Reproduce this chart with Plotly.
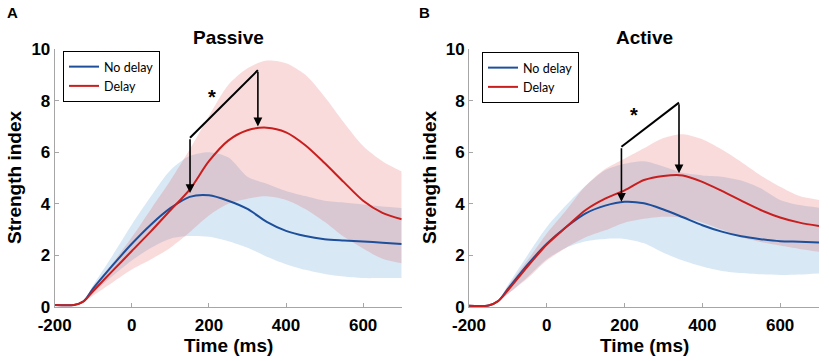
import plotly.graph_objects as go

# ---------------- data ----------------
time_ms = [-200, -150, -125, -100, -50, 0, 50, 100, 150, 200, 250, 300, 350, 400, 450, 500, 550, 600, 650, 700]

# Panel A (Passive)
a_nodelay_mean = [0.08, 0.08, 0.22, 0.72, 1.61, 2.45, 3.2, 3.83, 4.27, 4.33, 4.12, 3.8, 3.3, 2.95, 2.75, 2.63, 2.58, 2.54, 2.49, 2.44]
a_nodelay_upper = [0.1, 0.1, 0.25, 0.85, 2.0, 3.2, 4.3, 5.3, 5.85, 6.0, 5.8, 5.05, 4.78, 4.5, 4.3, 4.12, 4.05, 3.97, 3.9, 3.84]
a_nodelay_lower = [0.05, 0.05, 0.2, 0.55, 1.2, 1.8, 2.3, 2.65, 2.75, 2.72, 2.55, 2.3, 1.95, 1.66, 1.44, 1.28, 1.18, 1.12, 1.12, 1.12]
a_delay_mean = [0.08, 0.08, 0.22, 0.62, 1.4, 2.17, 2.94, 3.75, 4.55, 5.65, 6.45, 6.85, 6.95, 6.77, 6.27, 5.58, 4.84, 4.12, 3.65, 3.4]
a_delay_upper = [0.1, 0.1, 0.25, 0.8, 1.7, 2.7, 3.8, 4.9, 6.1, 7.4, 8.6, 9.25, 9.55, 9.45, 9.0, 8.15, 7.15, 6.24, 5.65, 5.25]
a_delay_lower = [0.05, 0.05, 0.2, 0.45, 0.95, 1.45, 1.85, 2.3, 2.9, 3.55, 4.0, 4.2, 4.29, 4.15, 3.8, 3.3, 2.72, 2.27, 1.87, 1.7]

# Panel B (Active)
b_nodelay_mean = [0.05, 0.06, 0.23, 0.7, 1.63, 2.45, 3.1, 3.63, 3.93, 4.08, 4.02, 3.78, 3.48, 3.17, 2.92, 2.74, 2.63, 2.55, 2.53, 2.5]
b_nodelay_upper = [0.08, 0.08, 0.25, 0.85, 2.0, 3.1, 3.95, 4.7, 5.3, 5.55, 5.65, 5.45, 5.2, 5.1, 5.05, 4.9, 4.6, 4.15, 3.95, 3.85]
b_nodelay_lower = [0.03, 0.04, 0.2, 0.5, 1.15, 1.85, 2.3, 2.55, 2.64, 2.64, 2.47, 2.1, 1.8, 1.57, 1.4, 1.32, 1.27, 1.24, 1.26, 1.3]
b_delay_mean = [0.05, 0.06, 0.23, 0.65, 1.56, 2.42, 3.1, 3.76, 4.2, 4.52, 4.92, 5.08, 5.1, 4.85, 4.5, 4.12, 3.76, 3.47, 3.27, 3.14]
b_delay_upper = [0.08, 0.08, 0.25, 0.8, 1.8, 2.85, 3.75, 4.7, 5.35, 5.75, 6.15, 6.55, 6.7, 6.5, 6.1, 5.62, 5.1, 4.66, 4.3, 4.15]
b_delay_lower = [0.03, 0.04, 0.2, 0.5, 1.1, 1.8, 2.3, 2.7, 2.97, 3.27, 3.42, 3.5, 3.47, 3.28, 3.0, 2.7, 2.52, 2.38, 2.25, 2.14]

# significance brackets: [x_left, x_left, x_right, x_right], [tipL, topL, topR, tipR]
a_bracket_x = [151, 151, 327, 327]
a_bracket_y = [4.42, 6.56, 9.18, 7.0]
a_star = (208, 8.15)
b_bracket_x = [192, 192, 340, 340]
b_bracket_y = [4.08, 6.21, 7.92, 5.18]
b_star = (224, 7.45)

x_ticks = [-200, 0, 200, 400, 600]
x_ticktext = ["-200", "0", "200", "400", "600"]
y_ticks = [0, 2, 4, 6, 8, 10]
series_names = ["No delay", "Delay"]
panel_titles = ["Passive", "Active"]
panel_letters = ["A", "B"]

BLUE = "#1d4f9b"
RED = "#c81e1e"
BLUE_FILL = "rgba(0,100,190,0.15)"
RED_FILL = "rgba(220,40,40,0.17)"

W, H = 829, 361
fig = go.Figure()

panels = [
    dict(xa="x", ya="y", legend="legend",
         nd=(a_nodelay_mean, a_nodelay_upper, a_nodelay_lower),
         d=(a_delay_mean, a_delay_upper, a_delay_lower)),
    dict(xa="x2", ya="y2", legend="legend2",
         nd=(b_nodelay_mean, b_nodelay_upper, b_nodelay_lower),
         d=(b_delay_mean, b_delay_upper, b_delay_lower)),
]

for p in panels:
    for (mean, up, lo), fillc in ((p["nd"], BLUE_FILL), (p["d"], RED_FILL)):
        fig.add_trace(go.Scatter(x=time_ms, y=up, mode="lines", line=dict(width=0, shape="spline", smoothing=0.8),
                                 xaxis=p["xa"], yaxis=p["ya"], showlegend=False, hoverinfo="skip"))
        fig.add_trace(go.Scatter(x=time_ms, y=lo, mode="lines", line=dict(width=0, shape="spline", smoothing=0.8),
                                 fill="tonexty", fillcolor=fillc,
                                 xaxis=p["xa"], yaxis=p["ya"], showlegend=False, hoverinfo="skip"))
    for (mean, up, lo), col, name in ((p["nd"], BLUE, series_names[0]), (p["d"], RED, series_names[1])):
        fig.add_trace(go.Scatter(x=time_ms, y=mean, mode="lines", name=name,
                                 line=dict(color=col, width=2, shape="spline", smoothing=0.8),
                                 xaxis=p["xa"], yaxis=p["ya"], legend=p["legend"]))

tick_font = dict(family="Liberation Sans, Arial", size=17, color="black", weight="bold")
ax_common = dict(showgrid=False, zeroline=False, showline=True, linecolor="#a6a6a6", linewidth=1,
                 ticks="inside", ticklen=4, tickcolor="#a6a6a6", tickfont=tick_font, mirror=False,
                 automargin=False)

ydom = [(H - 307) / H, (H - 49) / H]
leg_common = dict(xanchor="left", yanchor="top", bordercolor="black", borderwidth=1, bgcolor="white",
                  font=dict(family="Lato", size=12.5, color="black"), itemwidth=30,
                  tracegroupgap=0, traceorder="normal")
fig.update_layout(
    width=W, height=H, margin=dict(l=0, r=0, t=0, b=0, autoexpand=False),
    paper_bgcolor="white", plot_bgcolor="white",
    xaxis=dict(domain=[54.7 / W, 401.7 / W], range=[-200, 700], tickvals=x_ticks, ticktext=x_ticktext,
               anchor="y", ticklabelstandoff=3, **ax_common),
    yaxis=dict(domain=ydom, range=[0, 10], tickvals=y_ticks, anchor="x", **ax_common),
    xaxis2=dict(domain=[469 / W, 819 / W], range=[-200, 700], tickvals=x_ticks, ticktext=x_ticktext,
                anchor="y2", ticklabelstandoff=3, **ax_common),
    yaxis2=dict(domain=ydom, range=[0, 10], tickvals=y_ticks, anchor="x2", **ax_common),
    legend=dict(x=63 / W, y=1 - 51 / H, **leg_common),
    legend2=dict(x=482 / W, y=1 - 52 / H, **leg_common),
    showlegend=True,
)

bold = dict(family="Liberation Sans, Arial", color="black", weight="bold")
anns = []
shapes = []
for i, (bx, by, star, xr, yr, cx) in enumerate((
        (a_bracket_x, a_bracket_y, a_star, "x", "y", 228),
        (b_bracket_x, b_bracket_y, b_star, "x2", "y2", 644))):
    # diagonal
    shapes.append(dict(type="line", xref=xr, yref=yr, x0=bx[1], y0=by[1], x1=bx[2], y1=by[2],
                       line=dict(color="black", width=2)))
    # arrows
    for (xt, yt, ytop) in ((bx[0], by[0], by[1]), (bx[3], by[3], by[2])):
        anns.append(dict(xref=xr, yref=yr, axref=xr, ayref=yr, x=xt, y=yt, ax=xt, ay=ytop,
                         text="", showarrow=True, arrowhead=2, arrowsize=1.1, arrowwidth=1.6,
                         arrowcolor="black"))
    anns.append(dict(xref=xr, yref=yr, x=star[0], y=star[1], text="*", showarrow=False,
                     font=dict(size=20, **bold)))
    # title
    anns.append(dict(xref="paper", yref="paper", x=cx / W, y=1 - 37 / H, text=panel_titles[i],
                     showarrow=False, font=dict(size=19, **bold), xanchor="center", yanchor="middle"))
    # panel letter
    anns.append(dict(xref="paper", yref="paper", x=(12 + i * 412) / W, y=1 - 13 / H, text=panel_letters[i],
                     showarrow=False, font=dict(size=15, **bold), xanchor="center", yanchor="middle"))
    # x title
    anns.append(dict(xref="paper", yref="paper", x=cx / W, y=1 - 345 / H, text="Time (ms)",
                     showarrow=False, font=dict(size=19, **bold), xanchor="center", yanchor="middle"))
    # y title
    anns.append(dict(xref="paper", yref="paper", x=(15 + i * 415) / W, y=1 - 178 / H, text="Strength index",
                     textangle=-90, showarrow=False, font=dict(size=19, **bold),
                     xanchor="center", yanchor="middle"))

fig.update_layout(annotations=anns, shapes=shapes)
fig.write_html("out.html", config={"displayModeBar": False},
               post_script="document.body.style.margin='0';document.body.style.overflow='hidden';")
